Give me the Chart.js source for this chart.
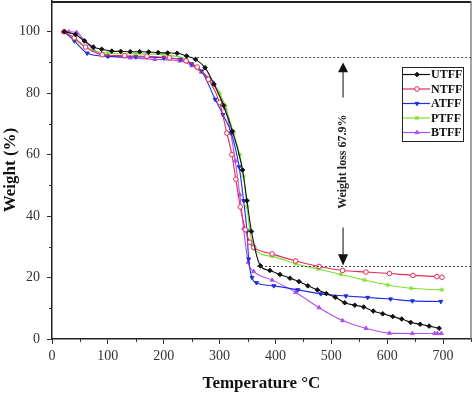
<!DOCTYPE html>
<html>
<head>
<meta charset="utf-8">
<script src="https://cdn.jsdelivr.net/npm/chart.js@4/dist/chart.umd.min.js"></script>
<style>
  html, body { margin: 0; padding: 0; background: #fff; }
  canvas { display: block; }
</style>
</head>
<body>
<canvas id="tgaChart" width="474" height="396"></canvas>
<script>
// TGA curves (temperature in C, weight in %)
const utffT = [22, 42, 58, 74, 89, 107, 123, 140, 157, 173, 190, 207, 224, 241, 257, 274, 290, 307, 323, 341, 349, 357, 373, 390, 408, 426, 442, 458, 475, 491, 507, 524, 542, 558, 575, 592, 610, 626, 642, 659, 675, 693];
const utffW = [100, 99.1, 97, 95, 94.3, 93.7, 93.6, 93.5, 93.5, 93.4, 93.2, 93.1, 93, 92.1, 91, 88.3, 82.9, 76, 67.6, 55, 45, 35, 23.8, 22.3, 21, 19.8, 18.7, 17.3, 16, 14.8, 13.6, 11.8, 11, 10.4, 9.1, 8.2, 7.3, 6.5, 5.4, 4.8, 4.2, 3.5];

const ntffT = [22, 40, 60, 90, 130, 170, 210, 240, 260, 280, 300, 313, 322, 329, 337, 346, 354, 361, 394, 436, 478, 520, 562, 604, 646, 689, 698];
const ntffW = [100, 98, 95, 92.5, 92.2, 92, 91.5, 90.5, 88.5, 84.5, 77, 67, 60, 52, 43, 35.6, 31.5, 29.8, 27.7, 25.4, 23.6, 22.3, 21.8, 21.3, 20.7, 20.3, 20.1];

const atffT = [22, 40, 63, 100, 150, 200, 230, 250, 268, 292, 306, 321, 335, 343, 349, 352, 358, 366, 397, 440, 481, 526, 565, 606, 645, 696];
const atffW = [100, 97, 93, 92, 91.8, 91.5, 91, 89.5, 87.2, 78, 73, 67, 56, 45, 35, 26, 20, 18.3, 17.3, 16, 14.7, 14, 13.5, 13, 12.4, 12.2];

const ptffT = [22, 40, 60, 100, 150, 200, 240, 260, 280, 300, 310, 325, 336, 343, 349, 354, 361, 394, 436, 476, 517, 559, 601, 643, 698];
const ptffW = [100, 97.5, 95, 93, 92.8, 92.5, 91, 88, 84.5, 80, 76, 67, 60, 53, 43, 35.6, 29.5, 26.9, 24.5, 22.8, 21, 19.2, 17.6, 16.5, 16];

const btffT = [20, 30, 44, 59, 75, 100, 140, 184, 229, 250, 267, 289, 310, 320, 328, 336, 343, 351, 361, 394, 436, 478, 520, 562, 604, 645, 685, 690, 697];
const btffW = [100, 100, 99.8, 97, 94, 92, 91.5, 91, 90.5, 89, 86.9, 83.4, 75, 67, 58, 47, 36, 25, 22, 19.2, 15.2, 10.2, 6, 3.5, 1.9, 1.8, 1.8, 1.8, 1.8];

// weight loss annotation levels
const upperLevel = 91.9;
const lowerLevel = 23.7;
const lossLabel = 'Weight loss 67.9%';

const serif = '"Liberation Serif", "DejaVu Serif", serif';

function toPoints(xs, ys) {
  return xs.map((x, i) => ({ x: x, y: ys[i] }));
}

function series(label, xs, ys, color, style, filled, rot) {
  return {
    label: label,
    data: toPoints(xs, ys),
    borderColor: color,
    backgroundColor: filled ? color : '#fff',
    pointBackgroundColor: filled ? color : '#fff',
    pointBorderColor: color,
    pointStyle: style,
    pointRotation: rot || 0,
    pointRadius: 2.3,
    pointBorderWidth: 1,
    borderWidth: 1.1,
    cubicInterpolationMode: 'monotone'
  };
}

// frame, minor ticks, dashed levels, arrows, legend, axis titles
const decor = {
  id: 'decor',
  afterDatasetsDraw(chart) {
    const { ctx, chartArea: a, scales: { x, y } } = chart;
    ctx.save();

    // top & right frame
    ctx.strokeStyle = '#222';
    ctx.lineWidth = 2;
    ctx.beginPath(); ctx.moveTo(a.left, a.top + 1); ctx.lineTo(a.right, a.top + 1); ctx.stroke();
    ctx.strokeStyle = '#666';
    ctx.lineWidth = 1.2;
    ctx.beginPath(); ctx.moveTo(a.right, a.top); ctx.lineTo(a.right, a.bottom); ctx.stroke();

    // minor ticks
    ctx.strokeStyle = '#333';
    ctx.lineWidth = 1;
    for (let v = 10; v < 110; v += 20) {
      const py = Math.round(y.getPixelForValue(v)) + 0.5;
      ctx.beginPath(); ctx.moveTo(a.left - 3, py); ctx.lineTo(a.left, py); ctx.stroke();
    }
    for (let v = 50; v <= 750; v += 100) {
      const px = Math.round(x.getPixelForValue(v)) + 0.5;
      ctx.beginPath(); ctx.moveTo(px, a.bottom); ctx.lineTo(px, a.bottom + 3); ctx.stroke();
    }

    // dotted levels
    ctx.setLineDash([2, 2]);
    ctx.strokeStyle = '#444';
    let py = Math.round(y.getPixelForValue(upperLevel)) + 0.5;
    ctx.beginPath(); ctx.moveTo(x.getPixelForValue(260), py); ctx.lineTo(a.right, py); ctx.stroke();
    py = Math.round(y.getPixelForValue(lowerLevel)) + 0.5;
    ctx.beginPath(); ctx.moveTo(x.getPixelForValue(367), py); ctx.lineTo(a.right, py); ctx.stroke();
    ctx.setLineDash([]);

    // arrows
    const ax = x.getPixelForValue(521);
    ctx.strokeStyle = '#333';
    ctx.fillStyle = '#111';
    ctx.lineWidth = 1.2;
    ctx.beginPath(); ctx.moveTo(ax, y.getPixelForValue(78.6)); ctx.lineTo(ax, y.getPixelForValue(87)); ctx.stroke();
    ctx.beginPath();
    ctx.moveTo(ax, y.getPixelForValue(90));
    ctx.lineTo(ax - 5, y.getPixelForValue(86.8));
    ctx.lineTo(ax + 5, y.getPixelForValue(86.8));
    ctx.closePath(); ctx.fill();
    ctx.beginPath(); ctx.moveTo(ax, y.getPixelForValue(36.3)); ctx.lineTo(ax, y.getPixelForValue(27.4)); ctx.stroke();
    ctx.beginPath();
    ctx.moveTo(ax, y.getPixelForValue(23.9));
    ctx.lineTo(ax - 5, y.getPixelForValue(27.6));
    ctx.lineTo(ax + 5, y.getPixelForValue(27.6));
    ctx.closePath(); ctx.fill();

    // rotated loss label
    ctx.save();
    ctx.translate(ax, y.getPixelForValue(57.7));
    ctx.rotate(-Math.PI / 2);
    ctx.font = 'bold 12px ' + serif;
    ctx.fillStyle = '#222';
    ctx.textAlign = 'center';
    ctx.textBaseline = 'middle';
    ctx.fillText(lossLabel, 0, 0);
    ctx.restore();

    // legend box
    const lx = 402, ly = 67, lw = 61, lh = 74;
    ctx.fillStyle = '#fff';
    ctx.fillRect(lx, ly, lw, lh);
    ctx.strokeStyle = '#222';
    ctx.lineWidth = 1;
    ctx.strokeRect(lx + 0.5, ly + 0.5, lw, lh);
    ctx.font = 'bold 12px ' + serif;
    ctx.textAlign = 'left';
    ctx.textBaseline = 'middle';
    chart.data.datasets.forEach((ds, i) => {
      const ry = ly + 7.5 + i * 14.5;
      ctx.strokeStyle = ds.borderColor;
      ctx.lineWidth = 1.2;
      ctx.beginPath(); ctx.moveTo(lx + 1, ry); ctx.lineTo(lx + 28, ry); ctx.stroke();
      ctx.fillStyle = ds.pointBackgroundColor;
      ctx.strokeStyle = ds.pointBorderColor;
      ctx.lineWidth = 1;
      Chart.helpers.drawPoint(ctx, { pointStyle: ds.pointStyle, radius: 2.3, rotation: ds.pointRotation, borderWidth: 1 }, lx + 15, ry);
      ctx.fillStyle = '#111';
      ctx.fillText(ds.label, lx + 29, ry + 0.5);
    });

    // axis titles
    ctx.fillStyle = '#111';
    ctx.font = 'bold 17px ' + serif;
    ctx.textAlign = 'center';
    ctx.textBaseline = 'middle';
    ctx.fillText('Temperature \u00B0C', (a.left + a.right) / 2, 384);
    ctx.save();
    ctx.translate(11, (a.top + a.bottom) / 2);
    ctx.rotate(-Math.PI / 2);
    ctx.fillText('Weight (%)', 0, 0);
    ctx.restore();

    ctx.restore();
  }
};

new Chart(document.getElementById('tgaChart'), {
  type: 'line',
  data: {
    datasets: [
      series('UTFF', utffT, utffW, '#111111', 'rectRot', true),
      series('NTFF', ntffT, ntffW, '#e8285a', 'circle', false),
      series('ATFF', atffT, atffW, '#1f2ee0', 'triangle', true, 180),
      series('PTFF', ptffT, ptffW, '#7ee02a', 'star', true),
      series('BTFF', btffT, btffW, '#b04ff0', 'triangle', true)
    ]
  },
  options: {
    responsive: false,
    animation: false,
    layout: { autoPadding: false, padding: { top: 1, right: 3, left: 0, bottom: 0 } },
    plugins: { legend: { display: false }, tooltip: { enabled: false } },
    scales: {
      x: {
        type: 'linear',
        min: 0,
        max: 750,
        afterFit: s => { s.height = 57; s.paddingLeft = 0; s.paddingRight = 0; },
        ticks: {
          stepSize: 50,
          padding: 4,
          color: '#333',
          font: { family: serif, size: 14 },
          callback: v => (v % 100 === 0 && v <= 700) ? v : ''
        },
        grid: {
          drawOnChartArea: false,
          tickLength: 5,
          tickColor: c => (c.tick && c.tick.value % 100 === 0) ? '#333' : 'transparent'
        },
        border: { display: true, color: '#222', width: 1.5 }
      },
      y: {
        min: 0,
        max: 110,
        afterFit: s => { s.width = 52; s.paddingTop = 0; s.paddingBottom = 0; },
        ticks: {
          stepSize: 10,
          padding: 7,
          color: '#333',
          font: { family: serif, size: 14 },
          callback: v => (v % 20 === 0 && v <= 100) ? v : ''
        },
        grid: {
          drawOnChartArea: false,
          tickLength: 5,
          tickColor: c => (c.tick && c.tick.value % 20 === 0 && c.tick.value <= 100) ? '#333' : 'transparent'
        },
        border: { display: true, color: '#222', width: 1.5 }
      }
    }
  },
  plugins: [decor]
});
</script>
</body>
</html>
